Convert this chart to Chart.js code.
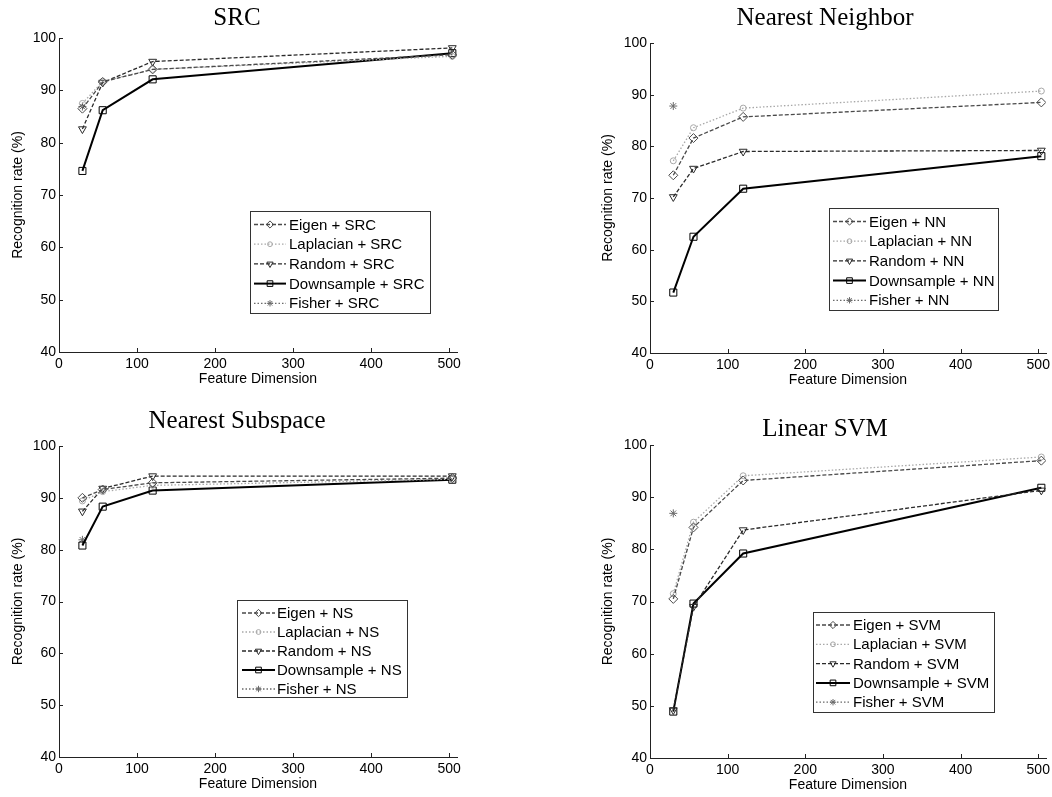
<!DOCTYPE html>
<html><head><meta charset="utf-8">
<script src="https://cdn.jsdelivr.net/npm/chart.js@4.4.1/dist/chart.umd.min.js"></script>
<style>
html,body{margin:0;padding:0;background:#fff;width:1052px;height:797px;overflow:hidden}
.p{position:absolute}
</style></head><body>
<div class="p" id="c0" style="left:0px;top:0px;width:526px;height:400px"><canvas></canvas></div>
<div class="p" id="c1" style="left:590px;top:0px;width:462px;height:400px"><canvas></canvas></div>
<div class="p" id="c2" style="left:0px;top:405px;width:526px;height:392px"><canvas></canvas></div>
<div class="p" id="c3" style="left:590px;top:405px;width:462px;height:392px"><canvas></canvas></div>
<script>
// ---------- DATA ----------
const dims = [30, 56, 120, 504];
const fisherDims = [30];
const methods = ['Eigen', 'Laplacian', 'Random', 'Downsample', 'Fisher'];
const xTickValues = [0, 100, 200, 300, 400, 500];
const yTickValues = [40, 50, 60, 70, 80, 90, 100];

const titles = ['SRC', 'Nearest Neighbor', 'Nearest Subspace', 'Linear SVM'];
const suffixes = ['SRC', 'NN', 'NS', 'SVM'];

const srcEigen = [86.5, 91.6, 94.0, 96.8];
const srcLaplacian = [87.5, 91.7, 94.0, 96.5];
const srcRandom = [82.6, 91.5, 95.5, 98.1];
const srcDownsample = [74.6, 86.2, 92.1, 97.1];
const srcFisher = [86.9];

const nnEigen = [74.4, 81.6, 85.7, 88.5];
const nnLaplacian = [77.2, 83.6, 87.4, 90.7];
const nnRandom = [70.2, 75.7, 79.0, 79.2];
const nnDownsample = [51.7, 62.5, 71.8, 78.1];
const nnFisher = [87.8];

const nsEigen = [90.0, 91.6, 92.9, 93.8];
const nsLaplacian = [89.4, 91.2, 92.4, 93.6];
const nsRandom = [87.4, 91.8, 94.2, 94.2];
const nsDownsample = [80.8, 88.3, 91.4, 93.5];
const nsFisher = [81.9];

const svmEigen = [70.5, 84.2, 93.2, 97.0];
const svmLaplacian = [71.5, 85.2, 94.1, 97.7];
const svmRandom = [49.2, 69.0, 83.7, 91.3];
const svmDownsample = [48.9, 69.6, 79.2, 91.8];
const svmFisher = [86.9];

const panelValues = [
  [srcEigen, srcLaplacian, srcRandom, srcDownsample, srcFisher],
  [nnEigen, nnLaplacian, nnRandom, nnDownsample, nnFisher],
  [nsEigen, nsLaplacian, nsRandom, nsDownsample, nsFisher],
  [svmEigen, svmLaplacian, svmRandom, svmDownsample, svmFisher]
];

// ---------- STYLES / LAYOUT ----------
const styles = [
  {borderColor:'#4a4a4a', borderDash:[4,2], borderWidth:1.3, pointStyle:'rectRot', pointRadius:4.5, pointRotation:0},
  {borderColor:'#a8a8a8', borderDash:[1.5,2], borderWidth:1.3, pointStyle:'circle', pointRadius:3, pointRotation:0},
  {borderColor:'#2a2a2a', borderDash:[4,2], borderWidth:1.3, pointStyle:'triangle', pointRadius:4.5, pointRotation:180},
  {borderColor:'#000000', borderDash:[], borderWidth:2, pointStyle:'rect', pointRadius:5, pointRotation:0},
  {borderColor:'#6a6a6a', borderDash:[1.5,2], borderWidth:1.3, pointStyle:'star', pointRadius:4, pointRotation:0}
];

const layouts = [
  {w:526, h:400, area:{l:59, t:38, r:457, b:352}, title:{x:237, y:18}, legend:{x:250, y:211, w:180, h:102, first:13.5, row:19.7, s0:4, s1:36, tx:39}},
  {w:462, h:400, area:{l:60, t:43, r:457, b:353}, title:{x:235, y:18}, legend:{x:239, y:208, w:169, h:102, first:13.5, row:19.7, s0:4, s1:37, tx:40}},
  {w:526, h:392, area:{l:59, t:41, r:457, b:352}, title:{x:237, y:16}, legend:{x:237, y:195, w:170, h:97, first:13, row:19, s0:5, s1:38, tx:40}},
  {w:462, h:392, area:{l:60, t:40, r:457, b:353}, title:{x:235, y:24}, legend:{x:223, y:207, w:181, h:100, first:13, row:19.3, s0:3, s1:37, tx:40}}
];
const X_AXIS_H = 38;

Chart.defaults.font.family = '"Liberation Sans", Arial, sans-serif';
Chart.defaults.color = '#000';

function drawMarker(ctx, style, x, y, r) {
  if (Chart.helpers && Chart.helpers.drawPoint) {
    Chart.helpers.drawPoint(ctx, {pointStyle: style.pointStyle, rotation: style.pointRotation, radius: r, borderWidth: 1}, x, y);
  }
}

const decorPlugin = {
  id: 'decor',
  afterDraw(chart) {
    const o = chart.options.plugins.decor;
    const ctx = chart.ctx;
    const ca = chart.chartArea;
    const xs = chart.scales.x, ys = chart.scales.y;
    ctx.save();
    // inner tick marks
    ctx.strokeStyle = '#222'; ctx.lineWidth = 1; ctx.setLineDash([]);
    ctx.beginPath();
    xTickValues.forEach(v => { const px = Math.round(xs.getPixelForValue(v)) + 0.5; ctx.moveTo(px, ca.bottom); ctx.lineTo(px, ca.bottom - 4); });
    yTickValues.forEach(v => { const py = Math.round(ys.getPixelForValue(v)) + 0.5; ctx.moveTo(ca.left, py); ctx.lineTo(ca.left + 4, py); });
    ctx.stroke();
    // title
    ctx.fillStyle = '#000';
    ctx.font = '25px "Liberation Serif", "Times New Roman", serif';
    ctx.textAlign = 'center'; ctx.textBaseline = 'middle';
    ctx.fillText(o.title, o.tx, o.ty);
    // legend
    const L = o.legend;
    ctx.fillStyle = '#fff';
    ctx.fillRect(L.x, L.y, L.w, L.h);
    ctx.strokeStyle = '#333'; ctx.lineWidth = 1;
    ctx.strokeRect(L.x + 0.5, L.y + 0.5, L.w, L.h);
    chart.data.datasets.forEach((ds, i) => {
      const st = styles[i];
      const cy = L.y + L.first + i * L.row;
      ctx.strokeStyle = st.borderColor;
      ctx.lineWidth = st.borderWidth;
      ctx.setLineDash(st.borderDash);
      ctx.beginPath(); ctx.moveTo(L.x + L.s0, cy); ctx.lineTo(L.x + L.s1, cy); ctx.stroke();
      ctx.setLineDash([]);
      ctx.lineWidth = 1;
      ctx.fillStyle = 'rgba(255,255,255,0)';
      drawMarker(ctx, st, L.x + (L.s0 + L.s1) / 2, cy, st.pointRadius * 0.8);
      ctx.fillStyle = '#000';
      ctx.font = '15px "Liberation Sans", Arial, sans-serif';
      ctx.textAlign = 'left'; ctx.textBaseline = 'middle';
      ctx.fillText(ds.label, L.x + L.tx, cy + 1);
    });
    ctx.restore();
  }
};

function buildChart(idx) {
  const lay = layouts[idx];
  const vals = panelValues[idx];
  const datasets = methods.map((m, i) => {
    const xsrc = (i === 4) ? fisherDims : dims;
    const st = styles[i];
    return {
      label: m + ' + ' + suffixes[idx],
      data: xsrc.map((d, j) => ({x: d, y: vals[i][j]})),
      borderColor: st.borderColor,
      borderWidth: st.borderWidth,
      borderDash: st.borderDash,
      pointStyle: st.pointStyle,
      pointRadius: st.pointRadius,
      pointRotation: st.pointRotation,
      pointBorderColor: st.borderColor,
      pointBorderWidth: 1,
      pointBackgroundColor: 'rgba(255,255,255,0)',
      backgroundColor: 'rgba(255,255,255,0)',
      fill: false,
      tension: 0
    };
  });
  const canvas = document.querySelector('#c' + idx + ' canvas');
  return new Chart(canvas, {
    type: 'line',
    data: {datasets},
    plugins: [decorPlugin],
    options: {
      responsive: true,
      maintainAspectRatio: false,
      animation: false,
      events: [],
      layout: {padding: {left: 0, top: lay.area.t, right: lay.w - lay.area.r, bottom: lay.h - lay.area.b - X_AXIS_H}},
      plugins: {
        legend: {display: false},
        title: {display: false},
        tooltip: {enabled: false},
        decor: {title: titles[idx], tx: lay.title.x, ty: lay.title.y, legend: lay.legend}
      },
      scales: {
        x: {
          type: 'linear', min: 0, max: 510,
          grid: {display: true, drawOnChartArea: false, drawTicks: false},
          border: {display: true, color: '#222', width: 1},
          ticks: {includeBounds: false, padding: 4, font: {size: 14}, color: '#000', maxRotation: 0, autoSkip: false},
          afterBuildTicks: s => { s.ticks = xTickValues.map(v => ({value: v})); },
          afterFit: s => { s.height = X_AXIS_H; s.paddingLeft = 0; s.paddingRight = 0; },
          title: {display: true, text: 'Feature Dimension', font: {size: 14}, color: '#000', padding: {top: 0, bottom: 2}}
        },
        y: {
          type: 'linear', min: 40, max: 100,
          grid: {display: true, drawOnChartArea: false, drawTicks: false},
          border: {display: true, color: '#222', width: 1},
          ticks: {includeBounds: false, padding: 3, font: {size: 14}, color: '#000', autoSkip: false},
          afterBuildTicks: s => { s.ticks = yTickValues.map(v => ({value: v})); },
          afterFit: s => { s.width = lay.area.l; s.paddingTop = 0; s.paddingBottom = 0; },
          title: {display: true, text: 'Recognition rate (%)', font: {size: 14}, color: '#000', padding: {top: 10, bottom: 0}}
        }
      }
    }
  });
}
[0, 1, 2, 3].forEach(buildChart);
</script>
</body></html>
